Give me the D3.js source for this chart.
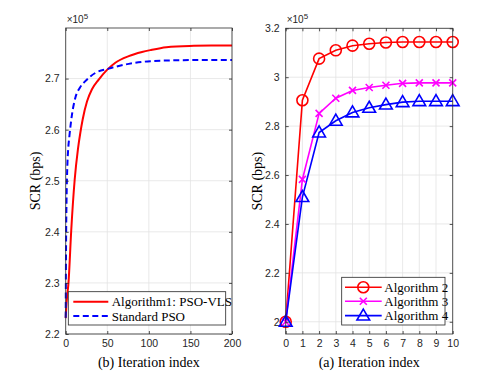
<!DOCTYPE html>
<html>
<head>
<meta charset="utf-8">
<script src="https://cdn.jsdelivr.net/npm/d3@7"></script>
<style>
html,body{margin:0;padding:0;background:#fff;}
svg{display:block;}
</style>
</head>
<body>
<svg id="chart" width="501" height="376"></svg>
<script>
// ---------- Data ----------
// Left panel (b): convergence over 200 iterations
const leftXTicks = [0, 50, 100, 150, 200];
const leftYTicks = [2.2, 2.3, 2.4, 2.5, 2.6, 2.7];
const psoVlsIter = [0,0.4,3.6,6.7,10.8,14.8,17.6,20.4,25.6,31.6,39.7,49.7,59.7,75.8,91.8,101.7,121,149,175,200];
const psoVlsSCR  = [2.231,2.245,2.306,2.404,2.502,2.563,2.594,2.620,2.655,2.679,2.698,2.717,2.731,2.744,2.752,2.7557,2.7615,2.764,2.7645,2.7646];
const stdPsoIter = [0,0.5,1,2,3,4.3,7.6,11.6,17,23.6,35.6,51.7,75.8,101.7,141,200];
const stdPsoSCR  = [2.232,2.39,2.46,2.53,2.562,2.585,2.630,2.6625,2.682,2.695,2.711,2.7195,2.7288,2.734,2.736,2.7366];
const leftSeriesNames = ["Algorithm1: PSO-VLS", "Standard PSO"];

// Right panel (a): 10 iterations
const rightIter = [0,1,2,3,4,5,6,7,8,9,10];
const alg2 = [2.0,2.906,3.076,3.11,3.129,3.137,3.142,3.144,3.144,3.144,3.144];
const alg3 = [2.0,2.582,2.852,2.914,2.946,2.958,2.967,2.975,2.977,2.977,2.977];
const alg4 = [2.0,2.51,2.774,2.822,2.856,2.875,2.888,2.898,2.902,2.902,2.902];
const rightSeriesNames = ["Algorithm 2", "Algorithm 3", "Algorithm 4"];
const rightXTicks = [0,1,2,3,4,5,6,7,8,9,10];
const rightYTicks = [2.0,2.2,2.4,2.6,2.8,3.0,3.2];
const yLabelText = "SCR (bps)";
const leftXLabel = "(b) Iteration index";
const rightXLabel = "(a) Iteration index";

// ---------- Drawing ----------
const svg = d3.select("#chart");
const SANS = "'Liberation Sans', Arial, Helvetica, sans-serif";
const SERIF = "'Liberation Serif', 'Times New Roman', Times, serif";
const AXC = "#262626";
const GRID = "#e3e3e3";

function panel(opt){
  const g = svg.append("g");
  const x = opt.x, y = opt.y;
  const [x0,x1] = x.range(), [y0,y1] = y.range(); // y0 bottom, y1 top
  g.append("rect").attr("x",x0).attr("y",y1).attr("width",x1-x0).attr("height",y0-y1).attr("fill","#fff");
  g.selectAll(".gx").data(opt.xTicks).join("line")
    .attr("x1",d=>x(d)).attr("x2",d=>x(d)).attr("y1",y0).attr("y2",y1)
    .attr("stroke",GRID).attr("stroke-width",0.8);
  g.selectAll(".gy").data(opt.yTicks).join("line")
    .attr("y1",d=>y(d)).attr("y2",d=>y(d)).attr("x1",x0).attr("x2",x1)
    .attr("stroke",GRID).attr("stroke-width",0.8);
  const data = g.append("g");
  opt.draw(data, x, y);
  const tl = 3;
  const axB = d3.axisBottom(x).tickValues(opt.xTicks).tickSize(-tl).tickPadding(6).tickFormat(opt.xFmt);
  const axT = d3.axisTop(x).tickValues(opt.xTicks).tickSize(-tl).tickFormat("");
  const axL = d3.axisLeft(y).tickValues(opt.yTicks).tickSize(-tl).tickPadding(6).tickFormat(opt.yFmt);
  const axR = d3.axisRight(y).tickValues(opt.yTicks).tickSize(-tl).tickFormat("");
  const gb = g.append("g").attr("transform",`translate(0,${y0})`).call(axB);
  const gt = g.append("g").attr("transform",`translate(0,${y1})`).call(axT);
  const gl = g.append("g").attr("transform",`translate(${x0},0)`).call(axL);
  const gr = g.append("g").attr("transform",`translate(${x1},0)`).call(axR);
  [gb,gt,gl,gr].forEach(a=>{
    a.select(".domain").remove();
    a.selectAll(".tick line").attr("stroke",AXC).attr("stroke-width",0.8);
    a.selectAll(".tick text").attr("fill",AXC).style("font-family",SANS).style("font-size","10.5px");
  });
  g.append("rect").attr("x",x0).attr("y",y1).attr("width",x1-x0).attr("height",y0-y1)
    .attr("fill","none").attr("stroke",AXC).attr("stroke-width",0.9).attr("stroke-opacity",0.85);
  const ex = g.append("text").attr("x",x0+1).attr("y",y1-5).attr("fill",AXC)
    .style("font-family",SANS).style("font-size","10px");
  ex.append("tspan").text("\u00d710");
  ex.append("tspan").attr("dy",-4).style("font-size","8px").text("5");
  g.append("text").attr("x",(x0+x1)/2).attr("y",367).attr("text-anchor","middle")
    .style("font-family",SERIF).style("font-size","14px").attr("fill","#000").text(opt.xLabel);
  g.append("text").attr("transform",`translate(${opt.ylx},${(y0+y1)/2}) rotate(-90)`)
    .attr("text-anchor","middle").attr("dy","0.35em")
    .style("font-family",SERIF).style("font-size","14px").attr("fill","#000").text(yLabelText);
  return g;
}

// Left panel
const xL = d3.scaleLinear().domain([0,200]).range([65.7,232]);
const yL = d3.scaleLinear().domain([2.2,2.799]).range([334,28]);
panel({
  x:xL, y:yL, xTicks:leftXTicks, yTicks:leftYTicks,
  xFmt:d3.format("d"), yFmt:d3.format(".1f"), xLabel:leftXLabel, ylx:35,
  draw:(g,x,y)=>{
    const line = d3.line().x(d=>x(d[0])).y(d=>y(d[1])).curve(d3.curveMonotoneX);
    g.append("path").datum(psoVlsIter.map((v,i)=>[v,psoVlsSCR[i]]))
      .attr("d",line).attr("fill","none").attr("stroke","#ff0000").attr("stroke-width",2);
    g.append("path").datum(stdPsoIter.map((v,i)=>[v,stdPsoSCR[i]]))
      .attr("d",line).attr("fill","none").attr("stroke","#0000ff").attr("stroke-width",2)
      .attr("stroke-dasharray","6,3.5");
  }
});
{
  const lg = svg.append("g");
  lg.append("rect").attr("x",68.3).attr("y",291.7).attr("width",157.4).attr("height",33.3)
    .attr("fill","#fff").attr("stroke",AXC).attr("stroke-width",0.8);
  const rows = [301.7, 316];
  const st = [{c:"#ff0000",d:null},{c:"#0000ff",d:"6,3.5"}];
  leftSeriesNames.forEach((n,i)=>{
    lg.append("line").attr("x1",73.3).attr("x2",108.3).attr("y1",rows[i]).attr("y2",rows[i])
      .attr("stroke",st[i].c).attr("stroke-width",2).attr("stroke-dasharray",st[i].d);
    lg.append("text").attr("x",111.7).attr("y",rows[i]).attr("dy","0.35em")
      .style("font-family",SERIF).style("font-size","13px").attr("fill","#000").text(n);
  });
}

// Right panel
const xR = d3.scaleLinear().domain([0,10]).range([285.7,452.7]);
const yR = d3.scaleLinear().domain([1.95,3.2]).range([334,28.3]);
function marker(sel, type, color){
  if(type==="o"){
    sel.append("circle").attr("r",5.5).attr("fill","none").attr("stroke",color).attr("stroke-width",1.6);
  } else if(type==="x"){
    sel.append("path").attr("d","M-3.5,-3.5L3.5,3.5M-3.5,3.5L3.5,-3.5").attr("stroke",color).attr("stroke-width",1.6);
  } else {
    sel.append("path").attr("d",d3.symbol(d3.symbolTriangle, 70)()).attr("transform","translate(0,0.8)")
      .attr("fill","none").attr("stroke",color).attr("stroke-width",1.6);
  }
}
const rightSeries = [
  {vals:alg2, c:"#ff0000", m:"o"},
  {vals:alg3, c:"#ff00ff", m:"x"},
  {vals:alg4, c:"#0000ff", m:"t"}
];
panel({
  x:xR, y:yR, xTicks:rightXTicks, yTicks:rightYTicks,
  xFmt:d3.format("d"), yFmt:d=> (Math.abs(d-Math.round(d))<1e-9? d3.format("d")(d) : d3.format(".1f")(d)),
  xLabel:rightXLabel, ylx:257,
  draw:(g,x,y)=>{
    const line = d3.line().x(d=>x(d[0])).y(d=>y(d[1]));
    rightSeries.forEach(s=>{
      const pts = rightIter.map((v,i)=>[v,s.vals[i]]);
      g.append("path").datum(pts).attr("d",line).attr("fill","none").attr("stroke",s.c).attr("stroke-width",1.6);
    });
    rightSeries.forEach(s=>{
      const pts = rightIter.map((v,i)=>[v,s.vals[i]]);
      g.selectAll(null).data(pts).join("g").attr("transform",d=>`translate(${x(d[0])},${y(d[1])})`)
        .each(function(){ marker(d3.select(this), s.m, s.c); });
    });
  }
});
{
  const lg = svg.append("g");
  lg.append("rect").attr("x",341.7).attr("y",277.3).attr("width",103.3).attr("height",47.7)
    .attr("fill","#fff").attr("stroke",AXC).attr("stroke-width",0.8);
  const rows = [287.3, 301.3, 315.6];
  rightSeriesNames.forEach((n,i)=>{
    const s = rightSeries[i];
    lg.append("line").attr("x1",345).attr("x2",381.7).attr("y1",rows[i]).attr("y2",rows[i])
      .attr("stroke",s.c).attr("stroke-width",1.6);
    const mg = lg.append("g").attr("transform",`translate(363.3,${rows[i]})`);
    marker(mg, s.m, s.c);
    lg.append("text").attr("x",384.3).attr("y",rows[i]).attr("dy","0.35em")
      .style("font-family",SERIF).style("font-size","13px").attr("fill","#000").text(n);
  });
}
</script>
</body>
</html>
